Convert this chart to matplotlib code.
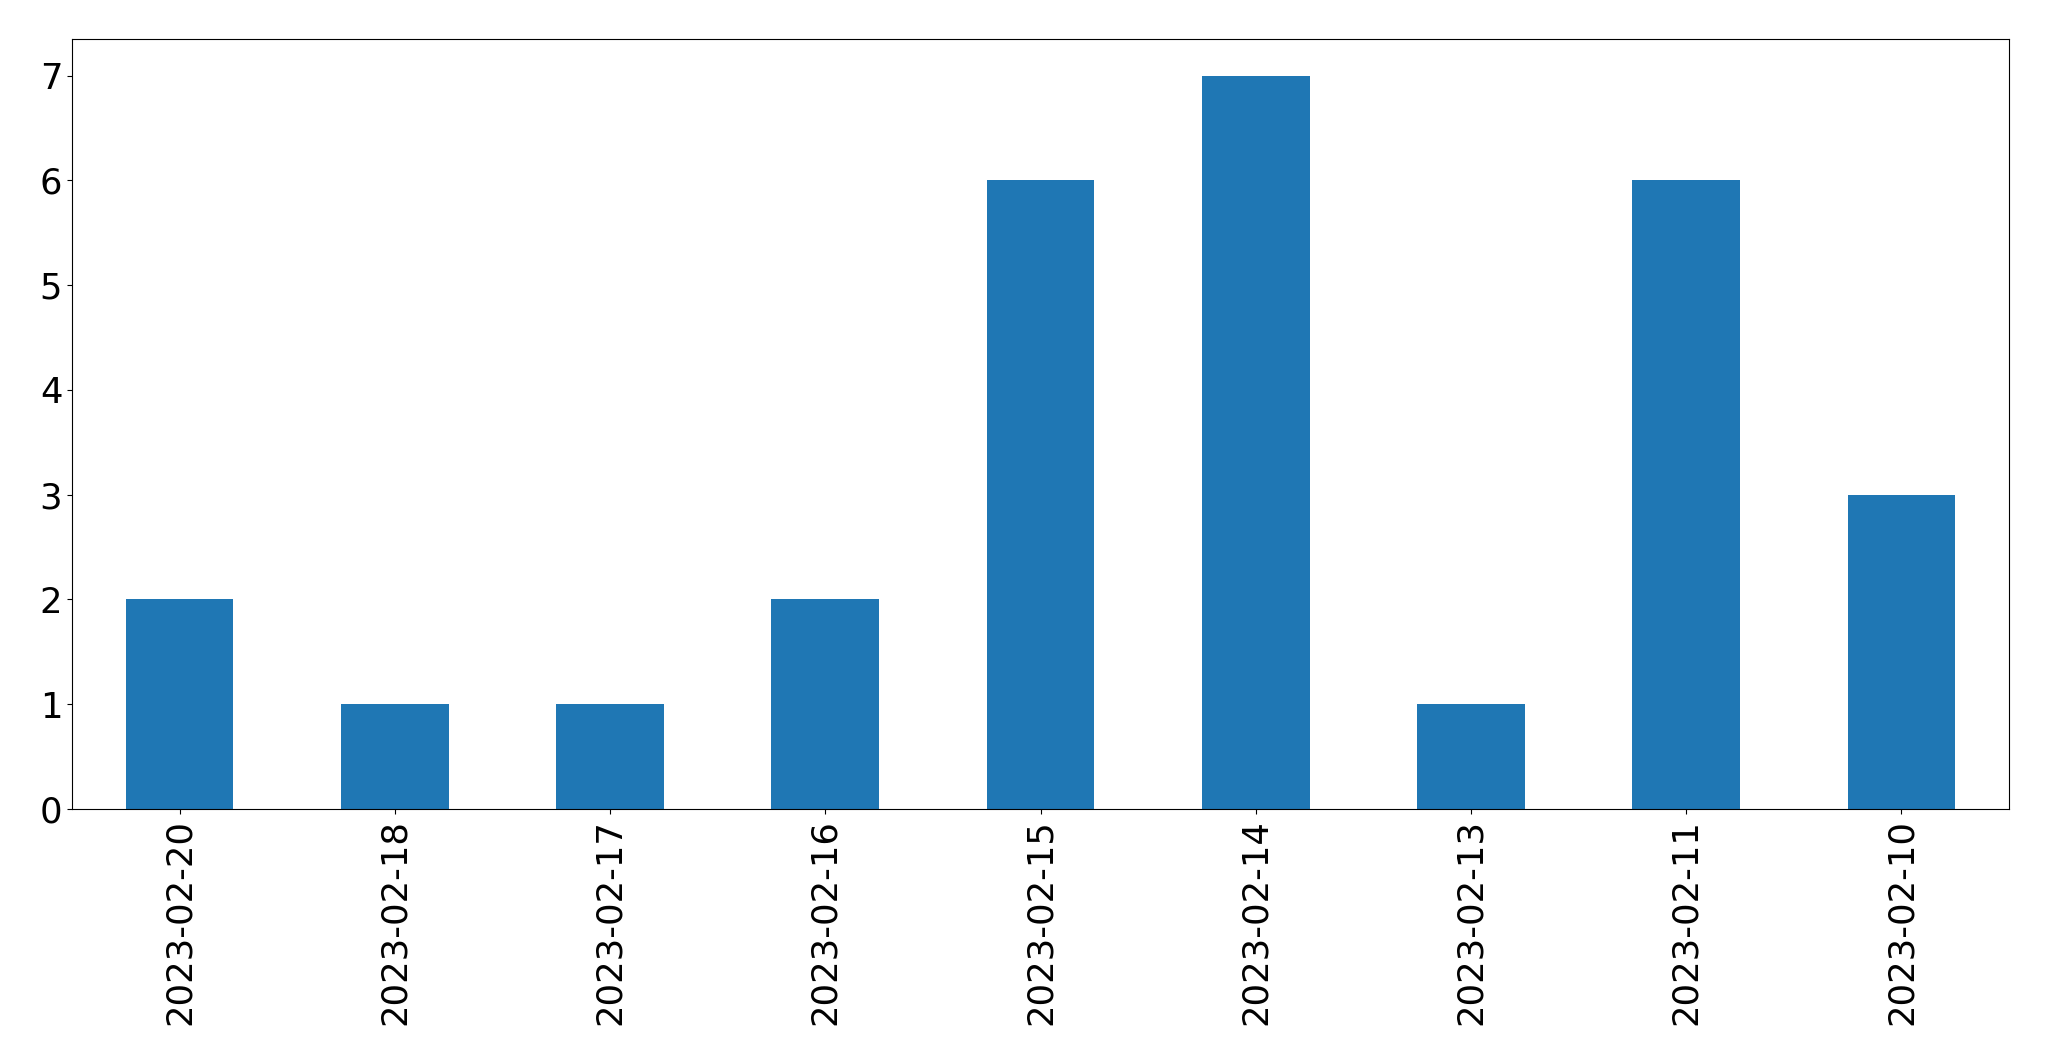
import matplotlib
matplotlib.use("Agg")
import matplotlib.pyplot as plt
import numpy as np

dates = ["2023-02-20", "2023-02-18", "2023-02-17", "2023-02-16", "2023-02-15",
         "2023-02-14", "2023-02-13", "2023-02-11", "2023-02-10"]
counts = [2, 1, 1, 2, 6, 7, 1, 6, 3]

fig = plt.figure(figsize=(20.49, 10.61), dpi=100)
ax = fig.add_axes([72/2049, 1 - 809/1061, (2009-72)/2049, (809-39)/1061])

x = np.arange(len(dates))
ax.bar(x, counts, width=0.5, color='#1f77b4')
ax.set_xlim(-0.5, len(dates) - 0.5)
ax.set_ylim(0, max(counts) * 1.05)
ax.set_xticks(x)
ax.set_xticklabels(dates, rotation=90)
ax.tick_params(labelsize=25.5)

plt.savefig("out.png", dpi=100)
